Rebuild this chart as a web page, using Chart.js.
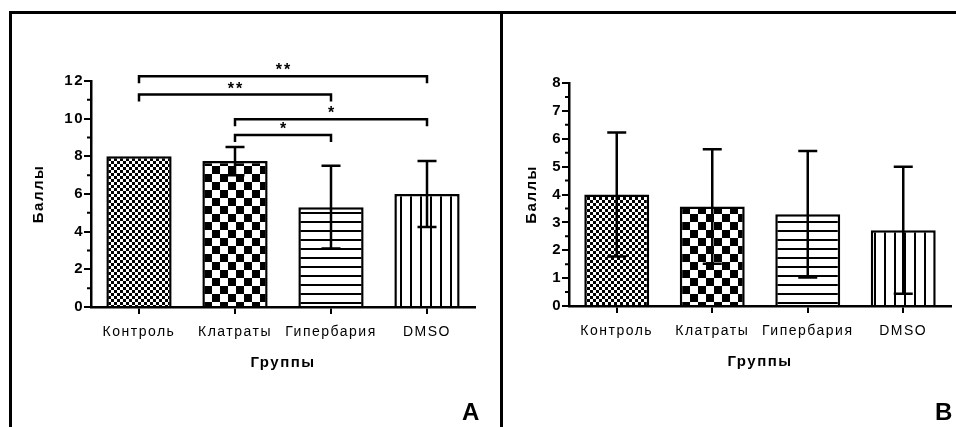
<!DOCTYPE html>
<html>
<head>
<meta charset="utf-8">
<script src="https://cdn.jsdelivr.net/npm/chart.js@4.4.1/dist/chart.umd.min.js"></script>
<style>
  html, body { margin: 0; padding: 0; background: #fff; }
  #page { position: relative; width: 956px; height: 427px; overflow: hidden; background: #fff; }
  #frame { position: absolute; left: 9px; top: 11px; width: 960px; height: 430px; border-top: 3px solid #000; border-left: 3px solid #000; }
  #divider { position: absolute; left: 500px; top: 11px; width: 3px; height: 420px; background: #000; }
  canvas { position: absolute; }
  .tag { position: absolute; font: bold 24px "Liberation Sans", Arial, sans-serif; line-height: 24px; color: #000; }
</style>
</head>
<body>
<div id="page">
  <div id="frame"></div>
  <div id="divider"></div>
  <canvas id="chartA" width="488" height="413" style="left:12px;top:14px"></canvas>
  <canvas id="chartB" width="450" height="413" style="left:506px;top:14px"></canvas>
  <div class="tag" style="left:462px;top:400px">A</div>
  <div class="tag" style="left:935px;top:400px">B</div>
</div>
<script>
const groups = ['Контроль', 'Клатраты', 'Гипербария', 'DMSO'];

// panel A
const meansA = [8.0, 7.75, 5.3, 6.0];
const sdA = [0, 0.75, 2.2, 1.75];
const ticksA = [0, 2, 4, 6, 8, 10, 12];
const minorA = [1, 3, 5, 7, 9, 11];
const bracketsA = [
  { from: 0, to: 3, y: 12.25, label: '**' },
  { from: 0, to: 2, y: 11.28, label: '**' },
  { from: 1, to: 3, y: 9.97, label: '*' },
  { from: 1, to: 2, y: 9.13, label: '*' },
];

// panel B
const meansB = [4.0, 3.57, 3.29, 2.72];
const sdB = [2.22, 2.05, 2.27, 2.28];
const ticksB = [0, 1, 2, 3, 4, 5, 6, 7, 8];
const minorB = [0.5, 1.5, 2.5, 3.5, 4.5, 5.5, 6.5, 7.5];

const FONT = '"Liberation Sans", Arial, sans-serif';
const INK = '#000';

function makePattern(kind) {
  const c = document.createElement('canvas');
  const g = c.getContext('2d');
  const size = { fine: 6, coarse: 16, hlines: 9, vlines: 10 }[kind];
  c.width = size; c.height = size;
  g.fillStyle = '#fff';
  g.fillRect(0, 0, size, size);
  g.fillStyle = '#000';
  if (kind === 'fine') {
    g.fillRect(0, 0, 3, 3); g.fillRect(3, 3, 3, 3);
  } else if (kind === 'coarse') {
    g.fillRect(0, 0, 8, 8); g.fillRect(8, 8, 8, 8);
  } else if (kind === 'hlines') {
    g.fillRect(0, 0, size, 2);
  } else {
    g.fillRect(8, 0, 2, size);
  }
  return g.createPattern(c, 'repeat');
}
const fills = ['fine', 'coarse', 'hlines', 'vlines'].map(makePattern);

const decorations = {
  id: 'decorations',
  beforeDraw(chart) {
    chart.ctx.letterSpacing = '1.5px';
  },
  afterDatasetsDraw(chart, args, opts) {
    const { ctx, scales: { x, y } } = chart;
    ctx.save();
    ctx.strokeStyle = '#000';
    ctx.lineWidth = 2.5;
    opts.sd.forEach((sd, i) => {
      if (!sd) return;
      const m = opts.means[i];
      const px = x.getPixelForValue(i);
      const top = y.getPixelForValue(m + sd);
      const bot = y.getPixelForValue(m - sd);
      ctx.beginPath();
      ctx.moveTo(px, top); ctx.lineTo(px, bot);
      ctx.moveTo(px - 9.5, top); ctx.lineTo(px + 9.5, top);
      ctx.moveTo(px - 9.5, bot); ctx.lineTo(px + 9.5, bot);
      ctx.stroke();
    });
    ctx.restore();
  },
  afterDraw(chart, args, opts) {
    const { ctx, chartArea, scales: { x, y } } = chart;
    ctx.save();
    ctx.strokeStyle = '#000';
    ctx.lineWidth = 2;
    // minor ticks on the y axis
    ctx.beginPath();
    opts.minor.forEach(v => {
      const py = y.getPixelForValue(v);
      ctx.moveTo(chartArea.left - 4, py);
      ctx.lineTo(chartArea.left, py);
    });
    ctx.stroke();
    // significance brackets
    ctx.lineWidth = 2.5;
    ctx.fillStyle = INK;
    ctx.font = 'bold 16px ' + FONT;
    ctx.textAlign = 'center';
    ctx.textBaseline = 'alphabetic';
    ctx.letterSpacing = '2px';
    (opts.brackets || []).forEach(b => {
      const x1 = x.getPixelForValue(b.from);
      const x2 = x.getPixelForValue(b.to);
      const py = y.getPixelForValue(b.y);
      ctx.beginPath();
      ctx.moveTo(x1, py + 7); ctx.lineTo(x1, py); ctx.lineTo(x2, py); ctx.lineTo(x2, py + 7);
      ctx.stroke();
      ctx.fillText(b.label, (x1 + x2) / 2 + 1, py - 1);
    });
    ctx.restore();
    ctx.letterSpacing = '0px';
  }
};

function buildChart(id, means, sd, yMax, yTicks, minor, brackets, pad, yWidth, yTitlePad) {
  return new Chart(document.getElementById(id), {
    type: 'bar',
    data: {
      labels: groups,
      datasets: [{
        data: means,
        backgroundColor: fills,
        borderColor: '#000',
        borderWidth: 2.5,
        borderSkipped: 'start',
        barPercentage: 0.68,
        categoryPercentage: 1,
      }],
    },
    options: {
      responsive: false,
      animation: false,
      layout: { padding: pad },
      plugins: {
        legend: { display: false },
        tooltip: { enabled: false },
        decorations: { means, sd, minor, brackets },
      },
      scales: {
        x: {
          offset: true,
          grid: { offset: false, drawOnChartArea: false, tickLength: 7, color: '#000', lineWidth: 2 },
          border: { color: '#000', width: 2.5 },
          ticks: { padding: 10, color: INK, font: { family: FONT, size: 14 } },
          title: { display: true, text: 'Группы', color: INK, padding: 0, font: { family: FONT, size: 15, weight: 'bold' } },
          afterFit: s => { s.height = 65; },
        },
        y: {
          min: 0,
          max: yMax,
          afterBuildTicks: s => { s.ticks = yTicks.map(v => ({ value: v })); },
          grid: { drawOnChartArea: false, tickLength: 7, color: '#000', lineWidth: 2 },
          border: { color: '#000', width: 2.5 },
          ticks: { padding: 0, color: INK, font: { family: FONT, size: 15, weight: 'bold' } },
          title: { display: true, text: 'Баллы', color: INK, padding: { top: yTitlePad, bottom: 0 }, font: { family: FONT, size: 15, weight: 'bold' } },
          afterFit: s => { s.width = yWidth; },
        },
      },
    },
    plugins: [decorations],
  });
}

buildChart('chartA', meansA, sdA, 12, ticksA, minorA, bracketsA,
  { left: 0, right: 25, top: 67, bottom: 55 }, 79, 18);
buildChart('chartB', meansB, sdB, 8, ticksB, minorB, [],
  { left: 0, right: 5, top: 69, bottom: 56 }, 63, 17);
</script>
</body>
</html>
